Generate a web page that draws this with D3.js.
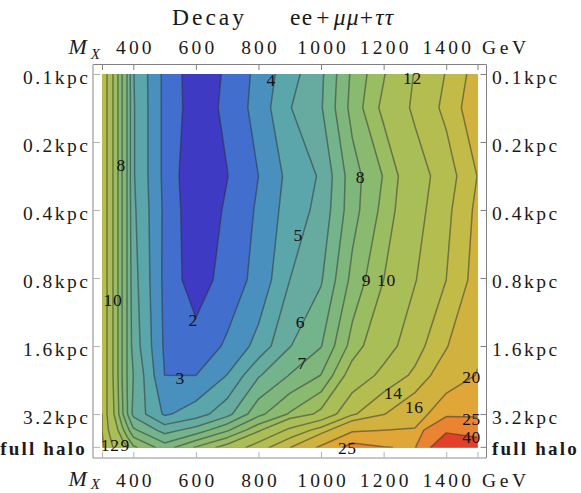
<!DOCTYPE html>
<html><head><meta charset="utf-8">
<script src="https://cdnjs.cloudflare.com/ajax/libs/d3/7.8.5/d3.min.js"></script>
<style>
html,body{margin:0;padding:0;background:#fff}
text{font-family:"Liberation Serif",serif;fill:#1a1a1a}
</style></head><body>
<svg id="c" width="581" height="493"></svg>
<script>
// Data
const massGeV=[300,316,335,351,364,380,400,500,600,700,800,900,1000,1100,1200,1300,1400,1500];
const radiusKpc=[0.1,0.141,0.283,0.4,0.817,1.6,2.16,3.2,3.77,4.5];
const row0=[13.5,12,10,9,8,7,5.05,2.75,1.40,2.14,3.3,4.6,5.8,8.2,9.9,12.1,14.1,17];
const row1=[13.5,12,10,9,8,7,5.1,2.75,1.45,2.22,3.4,4.95,5.9,8.35,10.3,12.35,14.5,17.6];
const row2=[13.5,12,10,9,8,7,5.1,2.75,1.12,1.97,3.0,4.3,5.12,7.56,9.06,11.06,12.94,16.05];
const row3=[13.5,12,10,9,8,7,5.2,2.8,1.25,2.15,3.15,4.45,5.3,7.6,9.3,11.2,13.45,16.5];
const row4=[13.5,12,10,9,8,7,5.4,2.76,1.40,2.49,3.29,5.0,5.9,8.3,10.0,11.9,14.0,16.9];
const row5=[13.5,12,10,9,8,7,5.6,2.85,2.45,3.13,4.35,5.95,6.95,9.4,11.1,13.15,15.8,19.3];
const row6=[13.5,12,10,9,8,7,6,3.001,3.001,4.03,5.9,7.05,8.03,10.65,12.55,14.4,17.6,20.2];
const row7=[14,12,10.2,9.2,8.2,7.1,5.75,3.85,4.5,5.65,7.7,9.1,10.3,13.7,15.9,18,22.8,24.5];
const row8=[14,12.3,11,10,9.3,8.4,7.2,5.6,6.4,7.85,9.75,12.4,14.8,19.3,20,20.3,37,27.2];
const row9=[14.5,13,12,11.2,10.7,10,9.2,7.5,9.1,10.5,13,15.9,20.7,27,25.2,24.5,56,58];
const levels=[2,3,4,5,6,7,8,9,10,12,14,16,20,25,40];
const bandColors=["#3F3AC4","#426FCD","#4A90BE","#5BA6AB","#66AAA0","#74B48C","#7FB67C","#8ABA70","#9ABD62","#AABE58","#B4BE50","#C2BB48","#D2B23E","#E0A638","#EA8432","#E24028"];
const xTicks=[300,400,600,800,1000,1200,1400,1500];
const xTickLabels=["","400","600","800","1000","1200","1400",""];
const yTicks=[0.1,0.2,0.4,0.8,1.6,3.2,4.47];
const yTickLabels=["0.1kpc","0.2kpc","0.4kpc","0.8kpc","1.6kpc","3.2kpc","full halo"];
const labelText=["4","12","8","8","5","9","10","10","2","6","3","7","14","16","20","25","40","25","12","9"];
const labelMass=[841,1292,361,1126,927,1145,1209,335,591,934,550,940,1231,1298,1481,1481,1481,1084,326,374];
const labelKpc=[0.106,0.104,0.253,0.286,0.516,0.817,0.817,1.0,1.23,1.25,2.22,1.9,2.57,2.97,2.2,3.36,4.05,4.5,4.4,4.4];

const L=102,R=477.5,T=74,B=447.5;
const xS=d3.scaleLinear().domain([300,1500]).range([L,R]);
const yS=d3.scaleLog().domain([0.1,4.5]).range([T,B]);
const svg=d3.select("#c");
const defs=svg.append("defs");
defs.append("clipPath").attr("id","plot").append("rect").attr("x",L).attr("y",T).attr("width",R-L).attr("height",B-T);

const rows=[row0,row1,row2,row3,row4,row5,row6,row7,row8,row9];
const nx=massGeV.length,ny=radiusKpc.length;
const values=rows.flat();
const contourSet=d3.contours().size([nx,ny]).smooth(true).thresholds(levels)(values);

const xPos=massGeV.map(xS),yPos=radiusKpc.map(yS);
function warp(t,pos,n){
  const u=t-0.5;
  if(u<=0) return pos[0]+u*24;
  if(u>=n-1) return pos[n-1]+(u-n+1)*24;
  const i=Math.floor(u);
  return pos[i]+(u-i)*(pos[i+1]-pos[i]);
}
const geo=d3.geoPath(d3.geoTransform({point(a,b){this.stream.point(warp(a,xPos,nx),warp(b,yPos,ny));}}));

const plotG=svg.append("g").attr("clip-path","url(#plot)");
plotG.append("rect").attr("x",L).attr("y",T).attr("width",R-L).attr("height",B-T).attr("fill",bandColors[0]);
plotG.selectAll("path.band").data(contourSet).join("path").attr("class","band")
 .attr("d",geo).attr("fill",(d,i)=>bandColors[i+1]);
plotG.selectAll("path.iso").data(contourSet).join("path").attr("class","iso")
 .attr("d",geo).attr("fill","none").attr("stroke","#2b2b2b").attr("stroke-opacity",0.5).attr("stroke-width",1.5).attr("stroke-linejoin","round");

// Frame
const fL=93,fR=486.5,fT=64.5,fB=458;
function seg(a,b,c,d,col,w){svg.append("line").attr("x1",a).attr("y1",b).attr("x2",c).attr("y2",d).attr("stroke",col).attr("stroke-width",w);}
seg(fL,fT,fR,fT,"#808080",1);
seg(fR,fT,fR,fB,"#808080",1);
seg(fL,fT,fL,fB,"#b4b4b4",1.6);
seg(fL,fB,fR,fB,"#b4b4b4",1.6);

function styleAxis(sel,col){sel.select(".domain").remove();sel.selectAll("line").attr("stroke",col).attr("stroke-width",1);sel.attr("font-family",null).attr("font-size",null);}
const fs=19.5,ls=3.2,lsY=2.5;
const axT=svg.append("g").attr("transform",`translate(0,${fT})`)
 .call(d3.axisBottom(xS).tickValues(xTicks).tickSize(5.5).tickFormat((d,i)=>xTickLabels[i]));
styleAxis(axT,"#808080");
axT.selectAll("text").attr("x",ls/2).attr("y",-10.5).attr("dy",0).attr("font-size",fs).attr("letter-spacing",ls);
const axB=svg.append("g").attr("transform",`translate(0,${fB})`)
 .call(d3.axisTop(xS).tickValues(xTicks).tickSize(6).tickFormat((d,i)=>xTickLabels[i]));
styleAxis(axB,"#b4b4b4");
axB.selectAll("text").attr("x",ls/2).attr("y",29).attr("dy",0).attr("font-size",fs).attr("letter-spacing",ls);
const axL=svg.append("g").attr("transform",`translate(${fL},0)`)
 .call(d3.axisRight(yS).tickValues(yTicks).tickSize(7).tickFormat((d,i)=>yTickLabels[i]));
styleAxis(axL,"#b4b4b4");
axL.selectAll("text").attr("x",-2.5).attr("dy",0).attr("y",9).attr("text-anchor","end").attr("font-size",fs).attr("letter-spacing",lsY);
const axR=svg.append("g").attr("transform",`translate(${fR},0)`)
 .call(d3.axisLeft(yS).tickValues(yTicks).tickSize(6).tickFormat((d,i)=>yTickLabels[i]));
styleAxis(axR,"#808080");
axR.selectAll("text").attr("x",5.5).attr("dy",0).attr("y",9).attr("text-anchor","start").attr("font-size",fs).attr("letter-spacing",lsY);
[axL,axR].forEach(a=>a.selectAll("text").filter((d,i)=>i===6).attr("font-weight","bold").attr("font-size",19).attr("letter-spacing",2.2).attr("y",7.7));
axL.selectAll("text").filter((d,i)=>i===6).attr("x",-6);

function mx(yy,sub){
  const t=svg.append("text").attr("x",68.5).attr("y",yy).attr("font-size",22).attr("font-style","italic");
  t.append("tspan").text("M");
  t.append("tspan").attr("dx",4).attr("dy",sub).attr("font-size",15).text("X");
}
mx(54,5);mx(486,3.4);
[54,487].forEach(yy=>svg.append("text").attr("x",482).attr("y",yy).attr("font-size",fs).attr("letter-spacing",3.6).text("GeV"));

svg.append("text").attr("x",172).attr("y",25).attr("font-size",23.5).attr("letter-spacing",3).text("Decay");
const t2=svg.append("text").attr("x",290).attr("y",25).attr("font-size",23.5).attr("letter-spacing",1.2);
t2.append("tspan").text("ee");
t2.append("tspan").attr("dx",3).text("+");
t2.append("tspan").attr("dx",3).attr("font-style","italic").text("μμ");
t2.append("tspan").text("+");
t2.append("tspan").attr("dx",1).attr("font-style","italic").text("ττ");

svg.append("g").selectAll("text").data(labelText).join("text")
 .attr("x",(d,i)=>xS(labelMass[i])).attr("y",(d,i)=>yS(labelKpc[i])).attr("dy","0.35em")
 .attr("text-anchor","middle").attr("font-size",17.5).attr("letter-spacing",0.6).style("fill","#111").text(d=>d);
</script></body></html>
